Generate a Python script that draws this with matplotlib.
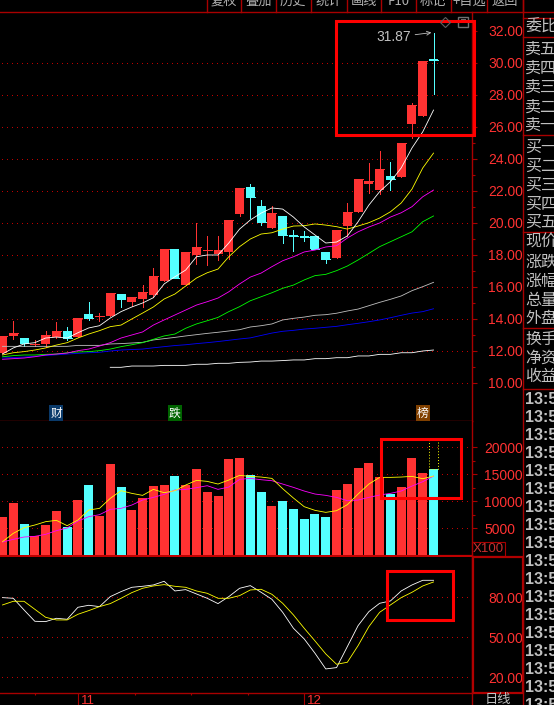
import matplotlib

matplotlib.use("Agg")

import matplotlib.pyplot as plt
import numpy as np
from matplotlib.patches import Rectangle


OUTPUT_PATH = "out.png"
WIDTH, HEIGHT = 554, 705
CJK = ["Noto Sans CJK SC", "DejaVu Sans"]
NUM_FONT = "Liberation Sans"

RED = "#ff3232"
CYAN = "#54ffff"
FRAME = "#a80000"
GREY = "#c0c0c0"
THIN = 0.5
MA_WIDTH = 0.6
nan = float("nan")

OPENS = [11.84, 12.91, 12.78, 12.34, 12.41, 12.84, 13.22, 12.84, 14.28, 14.09, 14.16, 15.53, 15.03, 15.22,
         15.47, 16.34, 18.34, 16.09, 17.97, 18.22, 18.03, 18.16, 20.53, 22.22, 21.03, 19.66, 20.41, 19.22,
         19.16, 19.16, 18.16, 17.78, 19.78, 20.66, 22.41, 22.03, 22.91, 22.84, 26.16, 26.66, 30.19]
CLOSES = [12.91, 13.09, 12.47, 12.41, 12.97, 13.22, 12.78, 14.03, 14.03, 14.16, 15.59, 15.22, 15.34, 15.66,
          16.66, 18.34, 16.53, 18.16, 18.47, 18.28, 18.28, 20.16, 22.16, 21.59, 20.03, 20.59, 19.22, 19.16,
          19.09, 18.34, 17.72, 19.53, 20.66, 22.72, 22.59, 23.34, 22.72, 24.97, 27.34, 30.09, 30.16]
HIGHS = [12.91, 13.84, 12.78, 12.66, 13.22, 13.78, 13.47, 14.03, 15.03, 14.34, 15.59, 15.53, 15.34, 16.09,
         17.16, 18.34, 18.34, 18.16, 19.97, 19.16, 19.16, 20.16, 22.16, 22.41, 21.41, 21.03, 20.41, 19.53,
         19.47, 19.16, 18.16, 19.53, 21.22, 22.72, 23.72, 24.47, 23.78, 24.97, 27.47, 30.09, 31.87]
LOWS = [11.84, 12.72, 12.28, 12.28, 12.22, 12.78, 12.66, 12.84, 13.91, 13.84, 14.16, 14.72, 14.78, 14.72,
        15.34, 16.34, 16.53, 16.09, 17.41, 17.34, 17.66, 17.72, 20.41, 20.28, 19.84, 19.66, 18.72, 18.22,
        18.84, 18.34, 17.47, 17.78, 19.16, 20.66, 21.84, 21.78, 22.03, 22.84, 25.28, 26.66, 28.03]

MA_WHITE = [11.78, 12.16, 12.41, 12.49, 12.78, 12.84, 12.78, 13.11, 13.41, 13.55, 14.03, 14.43, 14.72, 14.97,
            15.30, 16.16, 16.61, 17.03, 17.86, 17.97, 17.97, 18.72, 19.59, 20.16, 20.59, 20.91, 20.84, 20.34,
            19.72, 19.22, 18.72, 18.78, 19.16, 20.05, 21.09, 21.93, 22.55, 23.41, 24.66, 25.67, 27.03]
MA_YELLOW = [11.72, 11.86, 11.93, 12.03, 12.16, 12.34, 12.49, 12.78, 13.03, 13.24, 13.49, 13.59, 13.97, 14.34,
             14.72, 15.22, 15.53, 16.03, 16.53, 16.86, 17.09, 17.86, 18.49, 18.97, 19.28, 19.36, 19.59, 19.78,
             19.80, 19.91, 19.84, 19.74, 19.59, 19.78, 19.99, 20.28, 20.67, 21.22, 22.09, 23.41, 24.34]
MA_MAGENTA = [11.45, 11.49, 11.53, 11.61, 11.72, 11.78, 11.84, 11.99, 12.09, 12.28, 12.49, 12.78, 12.97, 13.16,
              13.59, 13.91, 14.22, 14.53, 14.84, 15.05, 15.28, 15.67, 16.16, 16.59, 16.84, 17.24, 17.61, 17.86,
              18.16, 18.28, 18.47, 18.55, 19.03, 19.42, 19.72, 19.97, 20.34, 20.61, 20.99, 21.61, 22.03]
MA_GREEN = [11.61, 11.68, 11.72, 11.72, 11.76, 11.78, 11.86, 11.91, 11.93, 11.99, 12.09, 12.24, 12.36, 12.49,
            12.70, 12.91, 13.03, 13.39, 13.66, 13.86, 14.07, 14.43, 14.74, 15.11, 15.36, 15.61, 15.89, 16.09,
            16.41, 16.68, 16.76, 16.99, 17.28, 17.66, 18.07, 18.49, 18.80, 19.11, 19.42, 20.05, 20.41]
MA_GREY = [12.26, 12.26, 12.26, 12.26, 12.26, 12.26, 12.26, 12.32, 12.32, 12.32, 12.41, 12.43, 12.47, 12.51,
           12.66, 12.74, 12.82, 12.91, 12.99, 13.07, 13.14, 13.22, 13.30, 13.47, 13.55, 13.66, 13.91, 14.01,
           14.09, 14.20, 14.24, 14.33, 14.47, 14.59, 14.80, 15.01, 15.20, 15.41, 15.74, 15.99, 16.26]
MA_BLUE = [11.53, 11.56, 11.59, 11.64, 11.69, 11.73, 11.78, 11.82, 11.86, 11.89, 11.97, 12.03, 12.06, 12.09,
           12.17, 12.24, 12.31, 12.36, 12.43, 12.49, 12.56, 12.64, 12.72, 12.79, 12.94, 13.09, 13.20, 13.26,
           13.34, 13.39, 13.45, 13.51, 13.61, 13.70, 13.80, 13.91, 14.05, 14.20, 14.34, 14.43, 14.61]
MA_LONG = [nan, nan, nan, nan, nan, nan, nan, nan, nan, nan, 10.95, 10.95, 11.03, 11.03, 11.03, 11.07, 11.07,
           11.07, 11.14, 11.14, 11.20, 11.20, 11.26, 11.28, 11.34, 11.34, 11.37, 11.41, 11.41, 11.49, 11.49,
           11.55, 11.55, 11.66, 11.66, 11.76, 11.76, 11.86, 11.86, 11.97, 12.03]

VOLUMES = [7034, 9625, 5738, 3517, 5553, 8144, 5183, 10180, 12957, 7219, 16844, 12587, 8330, 10551, 12772,
           12957, 14623, 12957, 15919, 11661, 10921, 17770, 17955, 14808, 11661, 9070, 9995, 8515, 6664, 7589,
           7034, 12032, 13142, 16104, 17029, 14500, 11291, 12587, 17955, 15178, 15919]
VOL_MA_YELLOW = [2468, 4010, 5059, 5553, 6170, 6417, 5430, 6479, 8330, 8638, 10489, 11908, 11415, 11044, 12155,
                 11538, 11908, 12957, 13821, 13636, 13142, 13883, 14746, 14561, 14438, 14191, 12278, 10551, 8947,
                 8268, 7898, 8206, 9317, 11291, 13142, 14376, 14376, 14438, 14561, 14129, 14623]
VOL_MA_MAGENTA = [2406, 2900, 3332, 3455, 3825, 4504, 4998, 6293, 7096, 7466, 8453, 8638, 9255, 10180, 10674,
                  11229, 12032, 12155, 12463, 12834, 12155, 12587, 14006, 14191, 13944, 13759, 13142, 12525,
                  11846, 11291, 11044, 10674, 10057, 10180, 10674, 11106, 11415, 11846, 12772, 13574, 14623]
LAST_VOLUME_ESTIMATE = 21225

KDJ_WHITE = [79.75, 79.25, 70.5, 62, 61.75, 64.25, 63.5, 72.5, 74, 73, 80.5, 84.25, 87.5, 88.25, 89.25, 92,
             84.75, 85.75, 82.5, 79.25, 75.25, 80.5, 86.75, 88.75, 83.75, 78.5, 68.75, 56.75, 48.75, 38, 26.25,
             27.25, 43, 58.75, 69.25, 75.5, 77.25, 84.75, 89.25, 92.75, 92.75]
KDJ_YELLOW = [74.25, 77, 77, 71, 65, 63, 63, 67.25, 70, 73, 75.25, 79.25, 83.5, 86.75, 88.5, 89.5, 88.25, 87.5,
              84.75, 83, 79.25, 79.25, 81.25, 85.5, 86, 82.25, 75.5, 66.75, 56.75, 47.25, 37.5, 29.75, 31.25,
              43.75, 58, 68.75, 74.25, 79.75, 83.75, 88.5, 91.5]

PRICE_TICKS = [10, 12, 14, 16, 18, 20, 22, 24, 26, 28, 30, 32]
VOLUME_TICKS = [5000, 10000, 15000, 20000]
KDJ_TICKS = [20, 50, 80]
EVENTS = [(5, "财", "#0a3a6a"), (16, "跌", "#006400"), (39, "榜", "#804000")]
MONTHS = [(7, "11"), (28, "12")]
MINOR_DATES = [3, 12.25, 17.5, 22.75]

BUTTONS = [(224, "复权"), (258, "叠加"), (293, "历史"), (329, "统计"), (364, "画线"),
           (399, "F10"), (433, "标记"), (469, "+自选"), (505, "返回")]
BUTTON_EDGES = [207, 241, 276, 311, 347, 381, 416, 451, 487, 523]
QUOTE_ROWS = [(27, "委比"), (49, "卖五"), (68, "卖四"), (87, "卖三"), (107, "卖二"), (125, "卖一"),
              (147, "买一"), (166, "买二"), (185, "买三"), (204, "买四"), (222, "买五"),
              (242, "现价"), (262, "涨跌"), (281, "涨幅"), (300, "总量"), (318, "外盘"),
              (339, "换手"), (358, "净资"), (377, "收益")]
QUOTE_RULES = [17.5, 36.7, 134.5, 231.7, 328.3, 389]
TRADE_ROWS = [399, 417, 435, 453, 471, 489, 507, 525, 543, 561, 579, 597, 615, 633, 651, 669, 687, 705]
RED_BOXES = [(335.5, 20.5, 138, 114), (381, 438.5, 80, 59), (386.5, 570.5, 66, 49)]


def panel(fig, top, bottom, ylim):
    # panels are placed in screen pixels so they line up with the terminal frame
    ax = fig.add_axes([0, 1 - bottom / HEIGHT, 472 / WIDTH, (bottom - top) / HEIGHT])
    ax.set_facecolor("black")
    ax.set_xlim(-0.232, 43.57)
    ax.set_ylim(*ylim)
    ax.set_xticks([])
    for side in ["top", "left"]:
        ax.spines[side].set_visible(False)
    for side in ["bottom", "right"]:
        ax.spines[side].set_color(FRAME)
        ax.spines[side].set_linewidth(1.0)
    ax.yaxis.tick_right()
    return ax


def value_axis(ax, ticks, labels, minor=None, length=3.6, pad=8):
    ax.set_yticks(ticks)
    ax.set_yticklabels(labels, fontname=NUM_FONT, fontsize=10, color=RED)
    ax.tick_params(axis="y", which="major", colors=FRAME, labelcolor=RED, length=length, width=0.8, pad=pad)
    if minor is not None:
        ax.set_yticks(minor, minor=True)
        ax.tick_params(axis="y", which="minor", colors=FRAME, length=2.2, width=0.8)


def dotted(ax, values):
    for value in values:
        ax.plot([-0.05, 43.5], [value, value], color="#c00000", linewidth=0.7,
                linestyle=(0, (1, 4.5)), zorder=1, antialiased=False)


def series(ax, xs, values, color, zorder=4):
    ax.plot(xs, values, color=color, linewidth=MA_WIDTH, zorder=zorder)


def draw_price(ax, xs):
    opens, closes = np.array(OPENS), np.array(CLOSES)
    colors = [RED if c >= o else CYAN for o, c in zip(opens, closes)]
    lows = np.minimum(opens, closes)
    heights = np.abs(closes - opens)

    dotted(ax, PRICE_TICKS[:-1])
    ax.vlines(xs, LOWS, HIGHS, colors=colors, linewidth=THIN, zorder=2, antialiased=False)
    ax.bar(xs, heights, bottom=lows, width=0.835, color=colors, linewidth=0, zorder=3)
    ax.hlines(closes, xs - 0.41, xs + 0.41, colors=colors, linewidth=THIN, zorder=3, antialiased=False)

    series(ax, xs, MA_LONG, "#ffffff")
    series(ax, xs, MA_BLUE, "#0000ff")
    series(ax, xs, MA_GREY, GREY)
    series(ax, xs, MA_GREEN, "#00ff00")
    series(ax, xs, MA_MAGENTA, "#ff00ff")
    series(ax, xs, MA_YELLOW, "#ffff00")
    series(ax, xs, MA_WHITE, "#ffffff")

    ax.annotate(
        f"{max(HIGHS):.2f}",
        xy=(xs[-1] - 0.2, max(HIGHS)),
        xytext=(xs[-1] - 3.7, max(HIGHS) - 0.3),
        ha="center",
        va="center",
        fontname=NUM_FONT,
        fontsize=10,
        color=GREY,
        arrowprops=dict(arrowstyle="->", color=GREY, linewidth=0.6, shrinkA=1, shrinkB=0, mutation_scale=7),
        zorder=6,
    )

    for index, label, color in EVENTS:
        ax.text(index, 8.09, label, ha="center", va="center", fontsize=8.5, family=CJK, color="white",
                bbox=dict(facecolor=color, edgecolor="none", pad=0.8), zorder=5)

    value_axis(ax, PRICE_TICKS, [f"{v:.2f}" for v in PRICE_TICKS], minor=np.arange(11, 33, 2))


def draw_volume(ax, xs):
    colors = [RED if c >= o else CYAN for o, c in zip(OPENS, CLOSES)]
    dotted(ax, VOLUME_TICKS)
    ax.bar(xs, VOLUMES, width=0.835, color=colors, linewidth=0, zorder=3)
    ax.bar(xs[-1], LAST_VOLUME_ESTIMATE - VOLUMES[-1], bottom=VOLUMES[-1], width=0.835, facecolor="none",
           edgecolor="#ffff00", linewidth=0.7, linestyle=(0, (1, 2)), zorder=3)
    series(ax, xs, VOL_MA_MAGENTA, "#ff00ff")
    series(ax, xs, VOL_MA_YELLOW, "#ffff00")
    value_axis(ax, VOLUME_TICKS, [str(v) for v in VOLUME_TICKS],
               minor=[2500, 7500, 12500, 17500], pad=5)
    ax.spines["bottom"].set_linewidth(1.6)
    ax.spines["bottom"].set_color("#c00000")


def draw_kdj(ax, xs):
    dotted(ax, KDJ_TICKS)
    series(ax, xs, KDJ_WHITE, "#ffffff")
    series(ax, xs, KDJ_YELLOW, "#ffff00")
    value_axis(ax, KDJ_TICKS, [f"{v:.2f}" for v in KDJ_TICKS], length=0, pad=12)
    ax.set_xticks(MINOR_DATES, minor=True)
    ax.set_xticks([m[0] for m in MONTHS])
    ax.set_xticklabels([])
    ax.tick_params(axis="x", which="major", colors=FRAME, length=9, width=0.8)
    ax.tick_params(axis="x", which="minor", colors=FRAME, length=1.6, width=0.8)
    for index, label in MONTHS:
        ax.annotate(label, xy=(index, 0), xycoords=("data", "axes fraction"), xytext=(2, -6),
                    textcoords="offset points", ha="left", va="center", fontname=NUM_FONT,
                    fontsize=9.5, color=RED, annotation_clip=False)


def draw_chrome(fig):
    # frame, buttons and the cut-off quote list of the trading terminal, in screen pixels
    ax = fig.add_axes([0, 0, 1, 1], zorder=10)
    ax.set_xlim(0, WIDTH)
    ax.set_ylim(HEIGHT, 0)
    ax.axis("off")
    ax.patch.set_alpha(0)

    ax.plot([0, WIDTH], [11.5, 11.5], color=FRAME, linewidth=1.0)
    ax.plot([523, 523], [0, HEIGHT], color=FRAME, linewidth=1.0)
    ax.plot([472, 472], [693, HEIGHT], color=FRAME, linewidth=1.0)
    for edge in BUTTON_EDGES:
        ax.plot([edge, edge], [0, 11.5], color=FRAME, linewidth=1.0)
    for x, label in BUTTONS:
        ax.text(x, 1.5, label, ha="center", va="center", family=CJK, fontsize=9.5, color="#b0b0b0", clip_on=True)

    for y in QUOTE_RULES:
        ax.plot([523, WIDTH], [y, y], color=FRAME, linewidth=1.0)
    for y, label in QUOTE_ROWS:
        ax.text(525, y, label, ha="left", va="center", family=CJK, fontsize=11.5, color=GREY, clip_on=True)
    for y in TRADE_ROWS:
        ax.text(525, y, "13:5", ha="left", va="center", fontname=NUM_FONT, fontweight="bold",
                fontsize=11.5, color=GREY, clip_on=True)

    ax.add_patch(Rectangle((472, 541.5), 33, 14.5, facecolor="none", edgecolor=FRAME, linewidth=0.8))
    ax.text(488.5, 549, "X100", ha="center", va="center", fontname=NUM_FONT, fontsize=9.5, color="#c83030")
    ax.add_patch(Rectangle((472.5, 556.5), 50.5, 136.5, facecolor="none", edgecolor="#b00000", linewidth=1.6))
    ax.text(497.5, 700, "日线", ha="center", va="center", family=CJK, fontsize=9.5, color=GREY)

    ax.plot([445], [22], marker="D", markersize=5, markerfacecolor="none", markeredgecolor="#606060",
            markeredgewidth=0.8)
    ax.add_patch(Rectangle((458, 17), 10, 10, facecolor="none", edgecolor="#707070", linewidth=1.0))
    ax.add_patch(Rectangle((461, 19), 5, 3, facecolor="#707070", edgecolor="none"))

    for x, y, w, h in RED_BOXES:
        ax.add_patch(Rectangle((x, y), w, h, facecolor="none", edgecolor="#ff0000", linewidth=2.2))


def main():
    fig = plt.figure(figsize=(WIDTH / 100, HEIGHT / 100), dpi=100, facecolor="black")
    xs = np.arange(len(OPENS))

    draw_price(panel(fig, 11.5, 420.5, (7.625, 33.19)), xs)
    draw_volume(panel(fig, 420.5, 556, (-185, 24910)), xs)
    draw_kdj(panel(fig, 556.5, 693, (8.2, 110.6)), xs)
    draw_chrome(fig)

    fig.savefig(OUTPUT_PATH, dpi=100, facecolor="black")


if __name__ == "__main__":
    main()
